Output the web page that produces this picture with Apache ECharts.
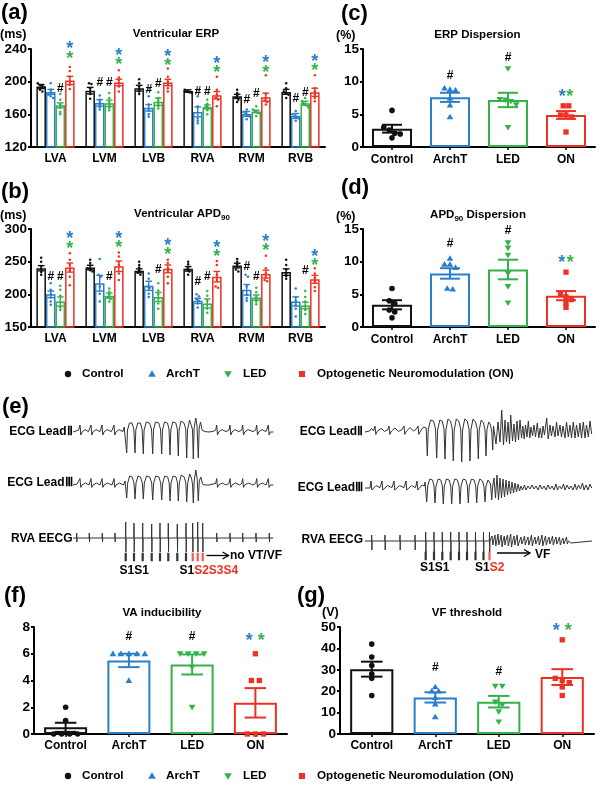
<!DOCTYPE html>
<html><head><meta charset="utf-8"><title>Figure</title>
<script src="https://cdn.jsdelivr.net/npm/echarts@6.0.0/dist/echarts.min.js"></script>
<style>html,body{margin:0;padding:0;background:#fff;}#chart{width:600px;height:793px;}</style>
</head><body><div id="chart"></div>
<script>
// ================= DATA =================
const sites = ['LVA', 'LVM', 'LVB', 'RVA', 'RVM', 'RVB'];
const groups = ['Control', 'ArchT', 'LED', 'ON'];
const legendLabels = ['Control', 'ArchT', 'LED', 'Optogenetic Neuromodulation (ON)'];

// (a) Ventricular ERP (ms)
const erpMeanControl = [194, 189, 192, 188.5, 182, 187.5];
const erpMeanArchT   = [187.5, 174, 168, 163, 160.5, 158];
const erpMeanLED     = [171, 173.5, 175.5, 169, 163.5, 173.5];
const erpMeanON      = [201.5, 199, 199, 183.5, 181, 187];
const erpSemControl  = [2.5, 4, 3.5, 1.5, 2.5, 3];
const erpSemArchT    = [3, 4, 4, 6, 3, 3];
const erpSemLED      = [3, 4, 4.5, 2.5, 1.5, 2.5];
const erpSemON       = [5, 4, 4, 4.5, 5, 5];
const erpPtsControl = [[198,196,195,193,190,188],[198,197,192,188,185,179],[203,198,194,191,188,185],[190,189,188,187,187,186],[190,186,183,180,178,175],[198,192,188,186,184,180]];
const erpPtsArchT   = [[198,190,187,184,182,180],[183,178,175,172,169,166],[192,182,172,165,160,157],[190,182,170,155,152,149],[166,163,161,159,157,154],[164,160,158,157,155,152]];
const erpPtsLED     = [[185,178,172,168,163,160],[186,180,175,171,168,165],[187,180,177,173,170,167],[178,173,170,168,165,160],[170,166,164,162,161,158],[180,176,174,172,170,168]];
const erpPtsON      = [[218,213,206,200,196,191],[214,205,202,198,194,188],[216,206,200,196,192,188],[206,190,184,180,178,170],[208,185,180,177,175,172],[208,192,188,184,180,176]];
const erpHashArchT  = [null, 199, 190, 188, 178, 179];
const erpHashLED    = [191, 199, 198, 188, 185, 187];
const erpStarBlue   = [245, 237, 236, 227, 228, 229];
const erpStarGreen  = [233, 226, 225, 216, 216, 218];

// (b) Ventricular APD90 (ms)
const apdMeanControl = [240, 241, 236, 239, 244, 234];
const apdMeanArchT   = [200, 217, 213, 190, 207, 189];
const apdMeanLED     = [189, 198, 196, 186, 195, 183];
const apdMeanON      = [241, 243, 239, 227, 231, 223];
const apdSemControl  = [4, 3.5, 3, 3.5, 3.5, 5];
const apdSemArchT    = [5, 12, 7, 4, 8, 7];
const apdSemLED      = [7, 4, 7, 7, 4, 5];
const apdSemON       = [7, 8, 6, 8, 6, 6];
const apdPtsControl = [[256,250,243,238,234,230],[253,248,244,240,237,235],[250,245,241,237,233,230],[250,246,242,238,235,230],[254,250,246,242,238,235],[253,245,238,232,228,224]];
const apdPtsArchT   = [[217,207,200,195,189,184],[254,230,227,212,201,189],[232,224,212,210,201,196],[200,197,193,190,186,180],[230,227,212,199,194,190],[209,196,190,184,178,166]];
const apdPtsLED     = [[213,207,198,188,180,176],[209,204,200,196,193,189],[217,206,200,194,186,178],[205,198,190,184,178,172],[210,203,197,193,189,185],[205,196,189,182,176,170]];
const apdPtsON      = [[263,253,245,237,227,214],[264,258,250,245,232,222],[253,248,240,236,227,217],[251,245,230,222,212,210],[259,240,232,226,222,220],[240,232,225,220,211,205]];
const apdHashArchT  = [227, null, null, 219, 242, null];
const apdHashLED    = [227, 227, 237, 227, 227, 236];
const apdStarBlue   = [291, 292, 281, 278, 287, 264];
const apdStarGreen  = [276, 278, 267, 264, 273, 250];

// (c) ERP dispersion (%)
const erpDispMean = [2.8, 7.6, 7.2, 4.9];
const erpDispSem  = [0.6, 0.7, 1.1, 0.6];
const erpDispPtsControl = [5.6, 3.0, 2.6, 2.1, 2.0, 1.4];
const erpDispPtsArchT   = [9.0, 8.8, 8.7, 7.5, 6.4, 4.6];
const erpDispPtsLED     = [12.0, 7.3, 7.2, 7.0, 6.5, 3.0];
const erpDispPtsON      = [6.3, 6.3, 4.9, 4.9, 4.6, 2.3];
const erpDispHash = [null, 10.9, 13.7, null];
const erpDispStar = 8.3;

// (d) APD90 dispersion (%)
const apdDispMean = [3.4, 8.2, 8.8, 4.8];
const apdDispSem  = [0.7, 0.8, 1.5, 0.7];
const apdDispPtsControl = [5.9, 4.0, 3.6, 2.6, 2.3, 1.4];
const apdDispPtsArchT   = [10.5, 9.6, 9.6, 9.1, 5.9, 5.8];
const apdDispPtsLED     = [12.9, 12.1, 11.0, 8.2, 6.2, 3.7];
const apdDispPtsON      = [8.4, 5.0, 4.6, 4.2, 3.6, 3.0];
const apdDispHash = [null, 12.7, 14.7, null];
const apdDispStar = 10.4;

// (f) VA inducibility
const vaMean = [0.5, 5.5, 5.2, 2.33];
const vaSem  = [0.34, 0.5, 0.75, 1.1];
const vaPtsControl = [2, 1, 0, 0, 0, 0];
const vaPtsArchT   = [6, 6, 6, 6, 6, 4];
const vaPtsLED     = [6, 6, 6, 6, 5, 2];
const vaPtsON      = [6, 4, 4, 0, 0, 0];
const vaHash = [null, 7.25, 7.25, null];
const vaStar = 7.25;

// (g) VF threshold (V)
const vfMean = [30.3, 17.1, 15.1, 26.6];
const vfSem  = [3.5, 2.4, 2.7, 3.7];
const vfPtsControl = [42, 36, 32, 28, 26, 18];
const vfPtsArchT   = [22, 20, 20, 17, 14, 8];
const vfPtsLED     = [22.4, 22.4, 15, 13.6, 10.4, 5.7];
const vfPtsON      = [44, 26, 25, 24, 22, 18];
const vfHash = [null, 31.1, 29.1, null];
const vfStar = 50.3;

// (e) ECG traces: [time (ms), amplitude (mV)]
const ecgLeadIILeft = [[0,0],[30,0.05],[55,0.1],[70,0.35],[78,-0.15],[90,0],[120,0.12],[155,0.02],
 [170,0.1],[180,0.35],[188,-0.15],[200,0],[230,0.12],[270,0.02],
 [280,0.1],[290,0.35],[298,-0.15],[310,0],[340,0.12],[385,0.02],
 [400,0.1],[410,0.35],[418,-0.15],[430,0],[460,0.12],[500,0.02],
 [512,0.25],[525,0.3],[537,-1.05],[545,0.1],[565,0.45],[590,0.45],[608,0.15],[620,-1.05],[628,0.1],[648,0.45],[673,0.45],[691,0.15],[703,-1.1],[711,0.1],[733,0.5],[765,0.45],[785,0.15],[797,-1.1],[805,0.1],[825,0.5],[857,0.45],[875,0.15],[887,-1.1],[895,0.1],[915,0.5],[945,0.45],[960,0.15],[970,-1.15],[978,0.1],[998,0.5],[1028,0.45],[1043,0.15],[1053,-1.2],[1061,0.1],[1080,0.55],[1110,0.45],[1127,0.15],[1137,-1.3],[1145,0.1],[1165,0.6],[1185,0.3],[1195,0.1],[1203,-1.35],[1211,0.2],[1228,0.7],[1240,0.3],[1253,-1.3],[1262,0.2],[1275,0.5],[1290,0.1],[1320,0.02],
 [1360,0],[1400,0.03],[1427,0.1],[1437,0.35],[1445,-0.15],[1457,0],[1490,0.12],[1530,0.02],[1560,0.1],[1570,0.35],[1578,-0.15],[1590,0],[1620,0.12],[1660,0.02],[1687,0.1],[1697,0.35],[1705,-0.15],[1717,0],[1750,0.12],[1800,0.02],[1827,0.1],[1837,0.35],[1845,-0.15],[1857,0],[1890,0.12],[1930,0.02],[1943,0.1],[1953,0.35],[1961,-0.15],[1973,0],[1990,0.08],[2003,0]];
const ecgLeadIIILeft = [[0,0],[40,0.05],[60,0.08],[70,0.32],[78,-0.12],[90,0],[125,0.1],[160,0],[170,0.08],[180,0.32],[188,-0.12],[200,0],[235,0.1],[270,0],[280,0.08],[290,0.32],[298,-0.12],[310,0],[345,0.1],[390,0],[400,0.08],[410,0.32],[418,-0.12],[430,0],[465,0.1],[505,0],
 [520,0.2],[537,-0.65],[547,0.1],[567,0.45],[592,0.4],[610,0.1],[620,-0.7],[630,0.1],[650,0.45],[675,0.4],[693,0.1],[703,-0.7],[713,0.1],[735,0.45],[767,0.4],[787,0.1],[797,-0.75],[807,0.1],[827,0.45],[859,0.4],[877,0.1],[887,-0.75],[897,0.1],[917,0.45],[947,0.4],[962,0.1],[970,-0.8],[980,0.1],[1000,0.45],[1030,0.4],[1045,0.1],[1053,-0.8],[1063,0.1],[1083,0.5],[1112,0.4],[1128,0.1],[1137,-0.85],[1147,0.1],[1167,0.55],[1187,0.3],[1196,0],[1203,-0.9],[1212,0.2],[1228,0.75],[1242,0.3],[1253,-0.8],[1263,0.2],[1278,0.4],[1295,0.05],[1320,0],
 [1360,0],[1427,0.08],[1437,0.32],[1445,-0.12],[1457,0],[1492,0.1],[1530,0],[1560,0.08],[1570,0.32],[1578,-0.12],[1590,0],[1625,0.1],[1665,0],[1687,0.08],[1697,0.32],[1705,-0.12],[1717,0],[1752,0.1],[1800,0],[1827,0.08],[1837,0.32],[1845,-0.12],[1857,0],[1892,0.1],[1930,0],[1943,0.08],[1953,0.32],[1961,-0.12],[1973,0],[1990,0.06],[2003,0]];
const eecgRvaLeft = [[0,0],[35,0],[37,0.25],[39,-0.2],[41,0],[161,0],[163,0.25],[165,-0.2],[167,0],[291,0],[293,0.25],[295,-0.2],[297,0],[418,0],[420,0.25],[422,-0.2],[424,0],
 [525,0],[527,0.8],[529,-0.7],[531,0],[608,0],[610,0.75],[612,-0.7],[614,0],[695,0],[697,0.75],[699,-0.7],[701,0],[785,0],[787,0.7],[789,-0.7],[791,0],[868,0],[870,0.75],[872,-0.7],[874,0],[951,0],[953,0.75],[955,-0.7],[957,0],[1041,0],[1043,0.7],[1045,-0.7],[1047,0],[1128,0],[1130,0.75],[1132,-0.7],[1134,0],[1195,0],[1197,0.75],[1199,-0.7],[1201,0],[1245,0],[1247,0.8],[1249,-0.7],[1251,0],[1295,0],[1297,0.75],[1299,-0.7],[1301,0],
 [1435,0],[1437,0.25],[1439,-0.2],[1441,0],[1568,0],[1570,0.25],[1572,-0.2],[1574,0],[1695,0],[1697,0.25],[1699,-0.2],[1701,0],[1828,0],[1830,0.25],[1832,-0.2],[1834,0],[1961,0],[1963,0.25],[1965,-0.2],[1967,0],[2003,0]];
const ecgLeadIIRight = [[0,0],[20,0.1],[45,0.05],[65,0.18],[85,0.05],[100,0.3],[108,-0.12],[125,0.05],[160,0.18],[195,0.03],[225,0.1],[240,0.3],[248,-0.12],[265,0.05],[300,0.2],[335,0.03],[370,0.12],[390,0.3],[398,-0.12],[415,0.05],[450,0.22],[485,0.05],[515,0.15],[530,0.3],[538,-0.12],[555,0.05],[585,0.25],[600,0.2],
 [612,0.2],[623,-1.2],[632,0.1],[655,0.6],[685,0.55],[705,0.15],[717,-1.3],[726,0.1],[748,0.6],[772,0.55],[790,0.15],[800,-1.35],[809,0.1],[830,0.65],[855,0.55],[873,0.15],[883,-1.45],[892,0.1],[913,0.65],[938,0.55],[957,0.15],[967,-1.5],[976,0.1],[997,0.65],[1022,0.55],[1040,0.15],[1050,-1.45],[1059,0.1],[1080,0.65],[1105,0.5],[1123,0.15],[1133,-1.35],[1142,0.1],[1162,0.6],[1185,0.45],[1200,0.1],[1210,-1.2],[1219,0.1],[1237,0.5],[1255,0.35],[1268,0],[1277,-0.9],[1285,0.3],
 [1290,0.3],[1310,-0.6],[1330,0.5],[1350,-0.5],[1367,1.1],[1385,-0.65],[1400,0.6],[1415,-0.5],[1430,0.5],[1445,-0.6],[1457,0.85],[1475,-0.45],[1490,0.4],[1505,-0.5],[1520,0.55],[1535,-0.4],[1550,0.6],[1565,-0.3],[1578,0.3],[1592,-0.35],[1605,0.35],[1620,-0.25],[1633,0.55],[1648,-0.3],[1660,0.25],[1675,-0.2],[1690,0.35],[1705,-0.25],[1723,0.45],[1738,-0.3],[1752,0.2],[1767,-0.3],[1780,0.3],[1795,-0.15],[1817,0.7],[1832,-0.35],[1850,0.35],[1865,-0.2],[1880,0.3],[1900,-0.25],[1915,0.5],[1930,-0.2],[1950,0.35],[1965,-0.25],[1980,0.3],[2000,-0.3],[2015,0.5],[2033,-0.25],[2050,0.35],[2065,-0.3],[2083,0.5],[2100,-0.3],[2115,0.35],[2133,-0.25],[2150,0.45],[2165,-0.3],[2183,0.5],[2200,-0.3],[2215,0.35],[2233,-0.25],[2250,0.55],[2267,-0.1]];
const ecgLeadIIIRight = [[0,0],[20,0.05],[50,0],[60,0.35],[68,-0.1],[80,0],[110,0.12],[150,0.02],[170,0.35],[178,-0.1],[190,0],[225,0.12],[270,0.02],[290,0.35],[298,-0.1],[310,0],[345,0.12],[390,0.02],[410,0.35],[418,-0.1],[430,0],[465,0.12],[505,0.02],[520,0.35],[528,-0.1],[540,0],[570,0.15],[595,0.1],
 [600,0.3],[617,-0.7],[627,0.1],[648,0.45],[675,0.4],[690,0.1],[700,-0.75],[710,0.1],[732,0.45],[758,0.4],[773,0.1],[783,-0.8],[793,0.1],[815,0.45],[842,0.4],[857,0.1],[867,-0.8],[877,0.1],[898,0.45],[925,0.4],[940,0.1],[950,-0.8],[960,0.1],[982,0.45],[1008,0.4],[1023,0.1],[1033,-0.75],[1043,0.1],[1065,0.45],[1092,0.4],[1107,0.1],[1117,-0.75],[1127,0.1],[1148,0.45],[1175,0.35],[1190,0.05],[1200,-0.7],[1210,0.1],[1230,0.4],[1255,0.2],[1267,-0.6],[1277,0.1],
 [1290,0.5],[1305,-0.5],[1320,0.65],[1335,-0.6],[1350,0.5],[1365,-0.5],[1380,0.45],[1395,-0.45],[1410,0.4],[1425,-0.35],[1440,0.35],[1455,-0.3],[1470,0.3],[1485,-0.25],[1500,0.25],[1515,-0.2],[1530,0.2],[1545,-0.15],[1560,0.1],[1575,-0.1],[1595,0.15],[1610,-0.1],[1630,0.1],[1650,-0.05],[1670,0.15],[1690,-0.05],[1710,0.1],[1730,-0.1],[1750,0.15],[1770,-0.05],[1790,0.1],[1810,-0.1],[1830,0.15],[1850,-0.05],[1870,0.1],[1890,-0.1],[1910,0.2],[1925,-0.1],[1945,0.1],[1965,-0.05],[1985,0.2],[2000,-0.1],[2020,0.15],[2040,-0.05],[2060,0.1],[2080,-0.1],[2100,0.2],[2115,-0.1],[2135,0.15],[2155,-0.05],[2175,0.25],[2190,-0.1],[2210,0.15],[2230,-0.1],[2250,0.2],[2267,0]];
const eecgRvaRight = [[0,0],[65,0],[67,0.3],[69,-0.45],[71,0],[198,0],[200,0.3],[202,-0.45],[204,0],[348,0],[350,0.3],[352,-0.45],[354,0],[498,0],[500,0.3],[502,-0.45],[504,0],
 [605,0],[607,0.45],[609,-0.55],[611,0],[688,0],[690,0.45],[692,-0.55],[694,0],[771,0],[773,0.45],[775,-0.55],[777,0],[855,0],[857,0.45],[859,-0.55],[861,0],[938,0],[940,0.45],[942,-0.55],[944,0],[1018,0],[1020,0.45],[1022,-0.55],[1024,0],[1103,0],[1105,0.45],[1107,-0.55],[1109,0],[1183,0],[1185,0.45],[1187,-0.55],[1189,0],[1243,0],[1245,0.45],[1247,-0.55],[1249,0],
 [1255,0],[1270,0.25],[1278,-0.2],[1290,0.1],[1300,0.3],[1308,-0.25],[1320,0.05],[1330,0.35],[1338,-0.2],[1350,0.05],[1362,0.3],[1370,-0.3],[1382,0.05],[1393,0.25],[1400,-0.2],[1412,0.1],[1425,0.3],[1433,-0.25],[1445,0.05],[1457,0.35],[1465,-0.3],[1477,0],[1490,0.25],[1498,-0.2],[1510,0.05],[1522,0.3],[1530,-0.25],[1545,0],[1560,0.2],[1568,-0.15],[1580,0],[1595,0.25],[1603,-0.2],[1615,0],[1630,0.2],[1638,-0.2],[1650,0],[1665,0.3],[1673,-0.25],[1685,0],[1700,0.2],[1708,-0.15],[1720,0],[1735,0.25],[1743,-0.2],[1755,0],[1770,0.3],[1778,-0.25],[1790,0],[1805,0.25],[1813,-0.2],[1825,0],[1840,0.2],[1848,-0.15],[1860,0],[1875,0.25],[1883,-0.2],[1895,0],[1910,0.2],[1918,-0.15],[1930,0],[1945,0.2],[1953,-0.2],[1965,0],[1980,0.15],[1988,-0.15],[2000,0],[2015,0.2],[2023,-0.15],[2035,0],[2050,0.1],[2058,-0.1],[2070,0],[2270,0]];
const stimS1Left = [527, 610, 697, 787, 870, 953, 1043, 1130];
const stimExtraLeft = [1197, 1247, 1297];
const stimS1Right = [607, 690, 773, 857, 940, 1020, 1105, 1185];
const stimExtraRight = [1245];

// ================= STYLE / HELPERS =================
const FONT = '"Liberation Sans", Arial, sans-serif';
const GCOL = ['#111111', '#2b7fc8', '#34b24a', '#ee3124'];
const RED = GCOL[3];
const mctx = document.createElement('canvas').getContext('2d');
function tw(s, size) { mctx.font = 'bold ' + size + 'px "Liberation Sans"'; return mctx.measureText(s).width; }

function txt(text, x, y, size, o) {
  o = o || {};
  const al = o.align || 'left';
  return {type: 'text', x: x, y: y, silent: true, z: 100,
    style: {text: text, fill: o.fill || '#000', fontSize: size, fontWeight: 'bold', fontFamily: FONT,
      align: al, verticalAlign: 'middle', textAlign: al, textVerticalAlign: 'middle'}};
}
function symbolEl(shp, x, y, r, col) {
  const st = {fill: col};
  if (shp === 0) return {type: 'circle', shape: {cx: x, cy: y, r: r}, style: st};
  if (shp === 1) return {type: 'polygon', shape: {points: [[x, y - r * 1.15], [x + r * 1.2, y + r * 0.85], [x - r * 1.2, y + r * 0.85]]}, style: st};
  if (shp === 2) return {type: 'polygon', shape: {points: [[x, y + r * 1.15], [x + r * 1.2, y - r * 0.85], [x - r * 1.2, y - r * 0.85]]}, style: st};
  return {type: 'rect', shape: {x: x - r * 0.95, y: y - r * 0.95, width: r * 1.9, height: r * 1.9}, style: st};
}
function jitter(vals, thr) {
  const idx = vals.map((v, i) => i).sort((a, b) => vals[b] - vals[a]);
  const off = new Array(vals.length).fill(0);
  let cl = [];
  const flush = () => { const n = cl.length; cl.forEach((id, k) => { off[id] = k - (n - 1) / 2; }); cl = []; };
  idx.forEach(id => {
    if (cl.length && Math.abs(vals[cl[cl.length - 1]] - vals[id]) >= thr) flush();
    cl.push(id);
  });
  flush();
  return off;
}
function slotGeom(api, cat, slot, nSlots, gap) {
  const c = api.coord([cat, 0]);
  const cw = api.size([1, 0])[0];
  const bw = cw * (1 - gap) / nSlots;
  return {x: c[0] + (slot - (nSlots - 1) / 2) * bw, bw: bw};
}
function errSeries(ai, items, cfg) {
  return {type: 'custom', xAxisIndex: ai, yAxisIndex: ai, z: 5, silent: true, data: items, encode: {x: 0, y: 2},
    renderItem: function (p, api) {
      const cat = api.value(0), slot = api.value(1), m = api.value(2), s = api.value(3), col = GCOL[api.value(4)];
      const g = slotGeom(api, cat, slot, cfg.nSlots, cfg.gap);
      const yT = api.coord([cat, m + s])[1], yB = api.coord([cat, m - s])[1];
      const hw = g.bw * cfg.capFrac / 2;
      const st = () => ({stroke: col, lineWidth: cfg.lw});
      return {type: 'group', children: [
        {type: 'line', shape: {x1: g.x, y1: yT, x2: g.x, y2: yB}, style: st()},
        {type: 'line', shape: {x1: g.x - hw, y1: yT, x2: g.x + hw, y2: yT}, style: st()},
        {type: 'line', shape: {x1: g.x - hw, y1: yB, x2: g.x + hw, y2: yB}, style: st()}]};
    }};
}
function ptSeries(ai, items, cfg) {
  return {type: 'custom', xAxisIndex: ai, yAxisIndex: ai, z: 6, silent: true, data: items, encode: {x: 0, y: 2},
    renderItem: function (p, api) {
      const cat = api.value(0), slot = api.value(1), v = api.value(2), col = GCOL[api.value(3)], off = api.value(4), shp = api.value(5);
      const g = slotGeom(api, cat, slot, cfg.nSlots, cfg.gap);
      const lim = g.bw * cfg.maxFrac;
      const dx = Math.max(-lim, Math.min(lim, off * cfg.spacing));
      return symbolEl(shp, g.x + dx, api.coord([cat, v])[1], cfg.r, col);
    }};
}
function annSeries(ai, items, cfg) {
  return {type: 'custom', xAxisIndex: ai, yAxisIndex: ai, z: 7, silent: true, data: items, encode: {x: 0, y: 2},
    renderItem: function (p, api) {
      const cat = api.value(0), slot = api.value(1), v = api.value(2), ci = api.value(3), kind = api.value(4);
      const g = slotGeom(api, cat, slot, cfg.nSlots, cfg.gap);
      const isHash = kind === 0;
      const size = isHash ? cfg.hashSize : cfg.starSize;
      const dx = kind === 1 ? -cfg.starSep / 2 : (kind === 2 ? cfg.starSep / 2 : 0);
      const dy = isHash ? 0 : size * 0.24;
      const y = api.coord([cat, v])[1];
      return {type: 'text', x: g.x + dx, y: y + dy,
        style: {text: isHash ? '#' : '*', fill: isHash ? '#000' : GCOL[ci], fontSize: size, fontWeight: 'bold', fontFamily: FONT,
          align: 'center', verticalAlign: 'middle', textAlign: 'center', textVerticalAlign: 'middle'}};
    }};
}
function yVal(gi, min, max, interval) {
  return {type: 'value', gridIndex: gi, min: min, max: max, interval: interval,
    axisLine: {show: true, lineStyle: {color: '#000', width: 2}},
    axisTick: {show: true, length: 3, lineStyle: {color: '#000', width: 2}},
    axisLabel: {color: '#000', fontFamily: FONT, fontWeight: 'bold', fontSize: 13.5, margin: 4},
    splitLine: {show: false}};
}
function xCat(gi, data, ticks, margin) {
  return {type: 'category', gridIndex: gi, data: data,
    axisLine: {show: true, onZero: false, lineStyle: {color: '#000', width: 2}},
    axisTick: {show: ticks, alignWithLabel: true, length: 3, lineStyle: {color: '#000', width: 1.5}},
    axisLabel: {interval: 0, color: '#000', fontFamily: FONT, fontWeight: 'bold', fontSize: 12, margin: margin},
    splitLine: {show: false}};
}
function hiddenVal(gi, min, max) { return {type: 'value', gridIndex: gi, min: min, max: max, show: false}; }

// ================= GRIDS =================
const gridBox = (left, top, width, height) => ({left: left, top: top, width: width, height: height, containLabel: false, outerBoundsMode: 'none'});
const grids = [
  gridBox(31, 49, 294, 98),    // 0 a
  gridBox(31, 229, 294, 98),   // 1 b
  gridBox(363, 49, 232, 98),   // 2 c
  gridBox(363, 229, 232, 98),  // 3 d
  gridBox(73, 412, 202, 50),   // 4 e left II
  gridBox(73, 465, 202, 50),   // 5 e left III
  gridBox(73, 518, 202, 47),   // 6 e left EECG
  gridBox(365, 412, 227, 50),  // 7 e right II
  gridBox(365, 468, 227, 50),  // 8 e right III
  gridBox(365, 521, 227, 47),  // 9 e right EECG
  gridBox(34, 627, 253, 107),  // 10 f
  gridBox(340, 627, 254, 107)  // 11 g
];
const xAxes = [
  xCat(0, sites, false, 6), xCat(1, sites, false, 6), xCat(2, groups, true, 7), xCat(3, groups, true, 7),
  hiddenVal(4, 0, 2020), hiddenVal(5, 0, 2020), hiddenVal(6, 0, 2020),
  hiddenVal(7, 0, 2270), hiddenVal(8, 0, 2270), hiddenVal(9, 0, 2270),
  xCat(10, groups, true, 6), xCat(11, groups, true, 6)
];
const yAxes = [
  yVal(0, 120, 240, 40), yVal(1, 150, 300, 50), yVal(2, 0, 15, 5), yVal(3, 0, 15, 5),
  hiddenVal(4, -1.5, 1.0), hiddenVal(5, -1.5, 1.0), hiddenVal(6, -1.35, 1.0),
  hiddenVal(7, -1.5, 1.0), hiddenVal(8, -1.5, 1.0), hiddenVal(9, -1.35, 1.0),
  yVal(10, 0, 8, 2), yVal(11, 0, 50, 10)
];

// ================= SERIES =================
const series = [];
function groupedPanel(ai, means, sems, pts, hashArchT, hashLED, starBlue, starGreen, thr) {
  const cfg = {nSlots: 4, gap: 0.22, capFrac: 0.7, lw: 1.4, spacing: 2.4, maxFrac: 0.36, r: 1.25, hashSize: 12, starSize: 18, starSep: 0};
  means.forEach((m, g) => {
    series.push({type: 'bar', name: legendLabels[g], xAxisIndex: ai, yAxisIndex: ai, data: m, barGap: '0%', barCategoryGap: '22%',
      silent: true, z: 2, clip: true, itemStyle: {color: 'rgba(255,255,255,0)', borderColor: GCOL[g], borderWidth: 1.5}});
  });
  const errItems = [], ptItems = [], annItems = [];
  means.forEach((m, g) => m.forEach((v, i) => errItems.push([i, g, v, sems[g][i], g])));
  pts.forEach((arr, g) => arr.forEach((vals, i) => { const off = jitter(vals, thr); vals.forEach((v, k) => ptItems.push([i, g, v, g, off[k], 0])); }));
  sites.forEach((s, i) => {
    if (hashArchT[i] != null) annItems.push([i, 1, hashArchT[i], 0, 0]);
    if (hashLED[i] != null) annItems.push([i, 2, hashLED[i], 0, 0]);
    annItems.push([i, 3, starBlue[i], 1, 3]);
    annItems.push([i, 3, starGreen[i], 2, 3]);
  });
  series.push(errSeries(ai, errItems, cfg), ptSeries(ai, ptItems, cfg), annSeries(ai, annItems, cfg));
}
function simplePanel(ai, mean, sem, pts, hash, star, c) {
  const cfg = Object.assign({nSlots: 1, capFrac: 0.5, lw: 2, maxFrac: 0.38, r: 2.8, hashSize: 12, starSize: 18}, c);
  series.push({type: 'bar', xAxisIndex: ai, yAxisIndex: ai, barCategoryGap: Math.round(cfg.gap * 100) + '%', silent: true, z: 2, clip: true,
    data: mean.map((v, i) => ({value: v, itemStyle: {color: 'rgba(255,255,255,0)', borderColor: GCOL[i], borderWidth: 2}}))});
  const errItems = mean.map((v, i) => [i, 0, v, sem[i], i]);
  const ptItems = [];
  pts.forEach((vals, i) => { const off = jitter(vals, cfg.thr); vals.forEach((v, k) => ptItems.push([i, 0, v, i, off[k], i])); });
  const annItems = [];
  hash.forEach((h, i) => { if (h != null) annItems.push([i, 0, h, 0, 0]); });
  annItems.push([3, 0, star, 1, 1], [3, 0, star, 2, 2]);
  series.push(errSeries(ai, errItems, cfg), ptSeries(ai, ptItems, cfg), annSeries(ai, annItems, cfg));
}

groupedPanel(0, [erpMeanControl, erpMeanArchT, erpMeanLED, erpMeanON], [erpSemControl, erpSemArchT, erpSemLED, erpSemON],
  [erpPtsControl, erpPtsArchT, erpPtsLED, erpPtsON], erpHashArchT, erpHashLED, erpStarBlue, erpStarGreen, 3);
groupedPanel(1, [apdMeanControl, apdMeanArchT, apdMeanLED, apdMeanON], [apdSemControl, apdSemArchT, apdSemLED, apdSemON],
  [apdPtsControl, apdPtsArchT, apdPtsLED, apdPtsON], apdHashArchT, apdHashLED, apdStarBlue, apdStarGreen, 4);
simplePanel(2, erpDispMean, erpDispSem, [erpDispPtsControl, erpDispPtsArchT, erpDispPtsLED, erpDispPtsON], erpDispHash, erpDispStar,
  {gap: 0.31, thr: 0.6, spacing: 5.5, starSep: 7.5});
simplePanel(3, apdDispMean, apdDispSem, [apdDispPtsControl, apdDispPtsArchT, apdDispPtsLED, apdDispPtsON], apdDispHash, apdDispStar,
  {gap: 0.31, thr: 0.6, spacing: 5.5, starSep: 8.5});
simplePanel(10, vaMean, vaSem, [vaPtsControl, vaPtsArchT, vaPtsLED, vaPtsON], vaHash, vaStar,
  {gap: 0.32, thr: 0.3, spacing: 8, starSep: 12});
simplePanel(11, vfMean, vfSem, [vfPtsControl, vfPtsArchT, vfPtsLED, vfPtsON], vfHash, vfStar,
  {gap: 0.32, thr: 2.0, spacing: 7, starSep: 12});

function ecgLine(ai, data) {
  return {type: 'line', xAxisIndex: ai, yAxisIndex: ai, data: data, showSymbol: false, symbol: 'none', silent: true, z: 3,
    lineStyle: {color: '#333', width: 1.0}, clip: false};
}
series.push(ecgLine(4, ecgLeadIILeft), ecgLine(5, ecgLeadIIILeft), ecgLine(6, eecgRvaLeft),
  ecgLine(7, ecgLeadIIRight), ecgLine(8, ecgLeadIIIRight), ecgLine(9, eecgRvaRight));
const STIM_Y_L = -0.95, STIM_Y_R = -0.75;
function stimSeries(ai, times, yv, col) {
  return {type: 'scatter', xAxisIndex: ai, yAxisIndex: ai, symbol: 'rect', symbolSize: [2.2, 8.5], silent: true, z: 4,
    itemStyle: {color: col}, data: times.map(t => [t, yv])};
}
series.push(stimSeries(6, stimS1Left, STIM_Y_L, '#000'), stimSeries(6, stimExtraLeft, STIM_Y_L, RED),
  stimSeries(9, stimS1Right, STIM_Y_R, '#000'), stimSeries(9, stimExtraRight, STIM_Y_R, RED));

// ================= TEXT / GRAPHIC =================
const G = [];
// panel letters
G.push(txt('(a)', 1, 13, 22), txt('(b)', 1, 192, 22), txt('(c)', 341, 14, 22), txt('(d)', 341, 188, 22),
  txt('(e)', 2, 407, 22), txt('(f)', 4, 596, 22), txt('(g)', 297, 596, 22));
// units
G.push(txt('(ms)', 0, 35, 12.5), txt('(ms)', 0, 216, 12.5), txt('(%)', 336, 36, 12.5), txt('(%)', 336, 217, 12.5), txt('(V)', 322, 613, 12.5));
// titles
G.push(txt('Ventricular ERP', 176, 34, 11.5, {align: 'center'}), txt('ERP Dispersion', 477.5, 35, 11.5, {align: 'center'}),
  txt('VA inducibility', 162, 613, 11.5, {align: 'center'}), txt('VF threshold', 467, 613, 11.5, {align: 'center'}));
(function () {
  const a = 'Ventricular APD', w1 = tw(a, 11.5), w2 = tw('90', 8);
  const x0 = 182 - (w1 + w2) / 2;
  G.push(txt(a, x0, 214, 11.5), txt('90', x0 + w1, 217.5, 8));
  const b1 = 'APD', b3 = ' Dispersion', v1 = tw(b1, 11.5), v2 = tw('90', 8), v3 = tw(b3, 11.5);
  const y0 = 478 - (v1 + v2 + v3) / 2;
  G.push(txt(b1, y0, 215, 11.5), txt('90', y0 + v1, 218.5, 8), txt(b3, y0 + v1 + v2, 215, 11.5));
})();
// legends
function legendEls(y) {
  const items = [[68, 82, 0], [152, 166, 1], [228, 243, 2], [302, 317, 3]];
  items.forEach(([sx, tx, k]) => {
    const s = symbolEl(k, sx, y, 3.2, GCOL[k]); s.silent = true; s.z = 100;
    G.push(s, txt(legendLabels[k], tx, y, 11.7));
  });
}
legendEls(374);
legendEls(776);
// ECG labels
G.push(txt('ECG Lead\u2161', 72.5, 432, 12, {align: 'right'}), txt('ECG Lead\u2162', 72.5, 483, 12, {align: 'right'}),
  txt('RVA EECG', 72.5, 539, 12, {align: 'right'}),
  txt('ECG Lead\u2161', 363, 432, 12, {align: 'right'}), txt('ECG Lead\u2162', 363, 488, 12, {align: 'right'}),
  txt('RVA EECG', 363, 540, 12, {align: 'right'}));
// stimulation labels
G.push(txt('S1S1', 119.5, 571, 12), txt('S1', 179.5, 571, 12), txt('S2S3S4', 179.5 + tw('S1', 12), 571, 12, {fill: RED}),
  txt('no VT/VF', 230, 556, 12),
  txt('S1S1', 420, 568, 12), txt('S1', 475, 568, 12), txt('S2', 475 + tw('S1', 12), 568, 12, {fill: RED}),
  txt('VF', 535, 555, 12));
function arrow(x1, x2, y) {
  G.push({type: 'line', silent: true, z: 100, shape: {x1: x1, y1: y, x2: x2, y2: y}, style: {stroke: '#000', lineWidth: 1.3}});
  G.push({type: 'polyline', silent: true, z: 100, shape: {points: [[x2 - 6, y - 3.5], [x2, y], [x2 - 6, y + 3.5]]}, style: {stroke: '#000', fill: null, lineWidth: 1.3}});
}
arrow(206.5, 228.5, 555.5);
arrow(497, 530, 553);

const chart = echarts.init(document.getElementById('chart'), null, {renderer: 'canvas', width: 600, height: 793});
chart.setOption({animation: false, backgroundColor: '#ffffff', textStyle: {fontFamily: FONT},
  grid: grids, xAxis: xAxes, yAxis: yAxes, series: series, graphic: {elements: G}});
</script></body></html>
